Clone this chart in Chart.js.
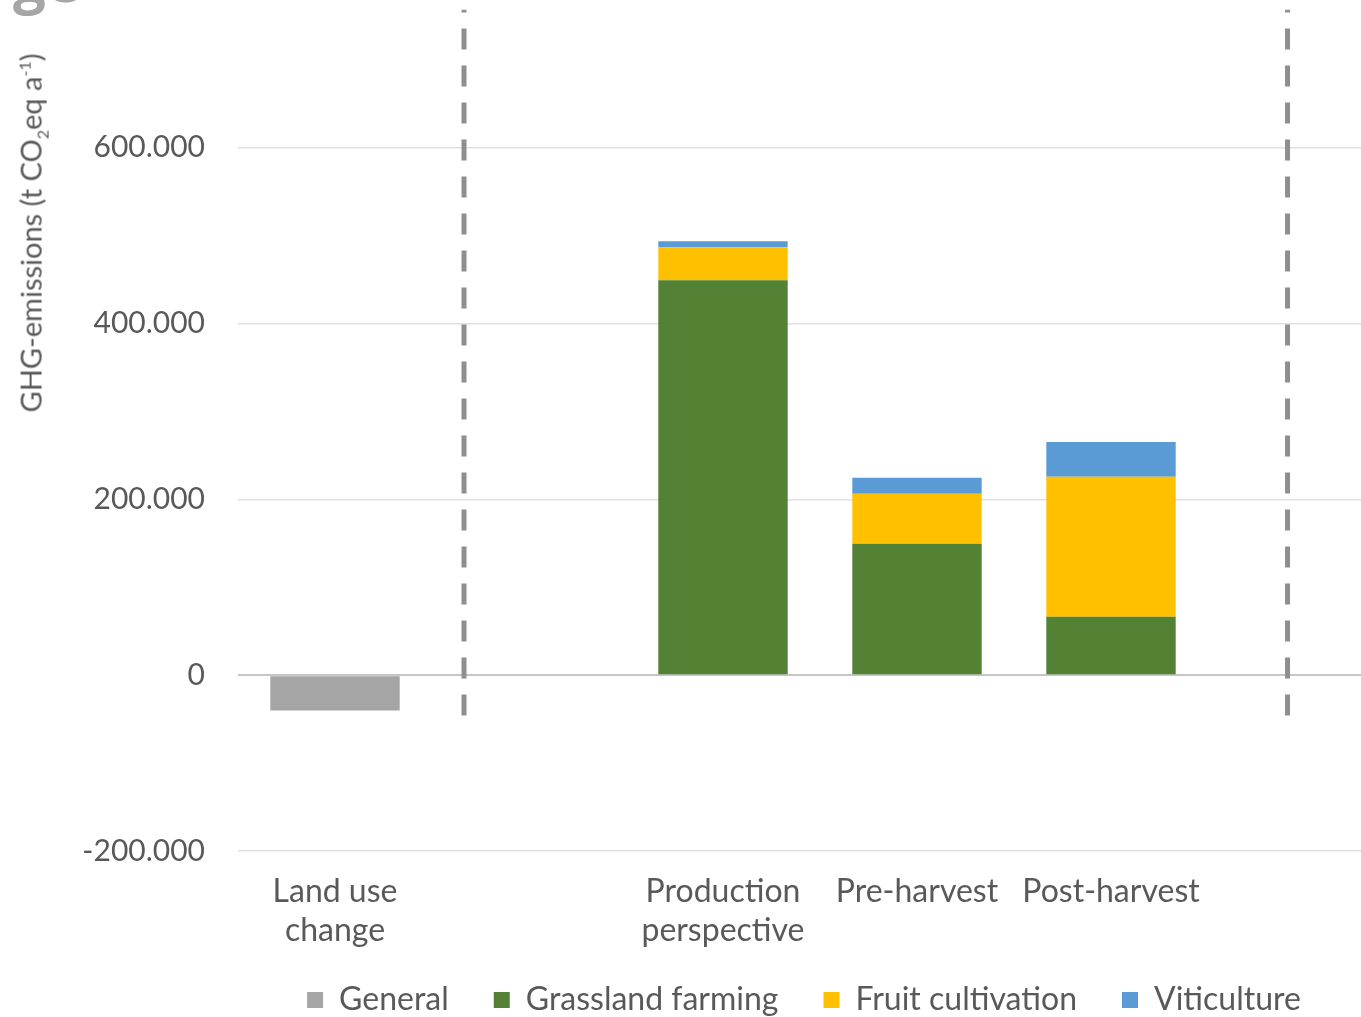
<!DOCTYPE html>
<html>
<head>
<meta charset="utf-8">
<script src="https://cdn.jsdelivr.net/npm/chart.js@4.4.1/dist/chart.umd.min.js"></script>
<style>
  html, body { margin: 0; padding: 0; background: #fff; overflow: hidden; }
  #wrap { position: absolute; left: 0; top: -79.5px; width: 1420px; height: 1109px; }
  #yTitle {
    position: absolute; left: 32px; top: 233px;
    transform: translate(-50%, -50%) rotate(-90deg);
    font-family: Lato, sans-serif; font-size: 29px; color: #595959; white-space: nowrap;
  }
  #yTitle sub, #yTitle sup { font-size: 16px; }
  #cut {
    position: absolute; left: 13px; top: -49px; line-height: 1;
    font-family: "Open Sans", sans-serif; font-weight: bold; font-size: 58px; color: #a6a6a6;
  }
</style>
</head>
<body>
<div id="cut">ge</div>
<div id="wrap"><canvas id="ghgChart"></canvas></div>
<div id="yTitle">GHG-emissions (t CO<sub>2</sub>eq a<sup>-1</sup>)</div>
<script>
// categories (empty slots stay as spacers)
const categories = [['Land use', 'change'], '', ['Production', 'perspective'], 'Pre-harvest', 'Post-harvest', ''];

// series values, t CO2eq per year
const general     = [-40300, null, null, null, null, null];
const grassland   = [null, null, 449400, 149400, 66500, null];
const fruit       = [null, null, 37500, 56850, 159100, null];
const viticulture = [null, null, 6800, 18200, 39700, null];

// y ticks
const yMin = -200000;
const yMax = 800000;
const yStep = 200000;

// dashed separators, in category index units
const separators = [0.665, 4.91];
const separatorSpan = [-46000, 757000];

const textColor = '#595959';
Chart.defaults.font.family = 'Lato, sans-serif';
Chart.defaults.color = textColor;

function fmt(v) {
  return v.toString().replace(/\B(?=(\d{3})+(?!\d))/g, '.');
}

function barSet(label, data, color) {
  return { label: label, data: data, backgroundColor: color, xAxisID: 'x', yAxisID: 'y', grouped: false };
}

const sepSets = separators.map((x, i) => ({
  type: 'line',
  label: 'sep' + i,
  xAxisID: 'x2',
  yAxisID: 'y2',
  data: separatorSpan.map(y => ({ x: x, y: y })),
  borderColor: '#8e8e8e',
  borderWidth: 5,
  borderDash: [21, 16],
  pointRadius: 0,
  fill: false
}));

const ctx = document.getElementById('ghgChart').getContext('2d');
new Chart(ctx, {
  type: 'bar',
  data: {
    labels: categories,
    datasets: [
      barSet('General', general, '#a5a5a5'),
      barSet('Grassland farming', grassland, '#548235'),
      barSet('Fruit cultivation', fruit, '#ffc000'),
      barSet('Viticulture', viticulture, '#5b9bd5'),
      ...sepSets
    ]
  },
  options: {
    responsive: true,
    maintainAspectRatio: false,
    animation: false,
    datasets: { bar: { barPercentage: 0.667, categoryPercentage: 1 } },
    layout: { padding: { left: 0, right: 18, top: 0, bottom: 4 } },
    plugins: {
      tooltip: { enabled: false },
      legend: {
        position: 'bottom',
        fullSize: false,
        labels: {
          // wider gap between items than above them
          generateLabels: chart => Chart.defaults.plugins.legend.labels.generateLabels(chart)
            .map(item => Object.assign(item, { text: item.text + '\u2002\u2002' })),
          filter: item => !item.text.startsWith('sep'),
          boxWidth: 16,
          boxHeight: 16,
          padding: 13,
          font: { size: 32 }
        }
      }
    },
    scales: {
      x: {
        stacked: true,
        grid: { display: false, drawTicks: false },
        border: { display: false },
        ticks: { font: { size: 32, lineHeight: 1.22 }, padding: 21, maxRotation: 0, autoSkip: false }
      },
      y: {
        stacked: true,
        min: yMin,
        max: yMax,
        border: { display: false },
        grid: {
          drawTicks: false,
          color: c => c.tick && c.tick.value === 0 ? '#c6c6c6' : '#e0e0e0',
          lineWidth: c => c.tick && c.tick.value === 0 ? 2 : 1.5
        },
        ticks: { stepSize: yStep, padding: 33, font: { size: 30 }, callback: v => fmt(v) },
        afterFit: s => { s.width = 238; }
      },
      x2: { type: 'linear', display: false, offset: false, min: -0.5, max: 5.5 },
      y2: { type: 'linear', display: false, stacked: false, min: yMin, max: yMax }
    }
  }
});
</script>
</body>
</html>
